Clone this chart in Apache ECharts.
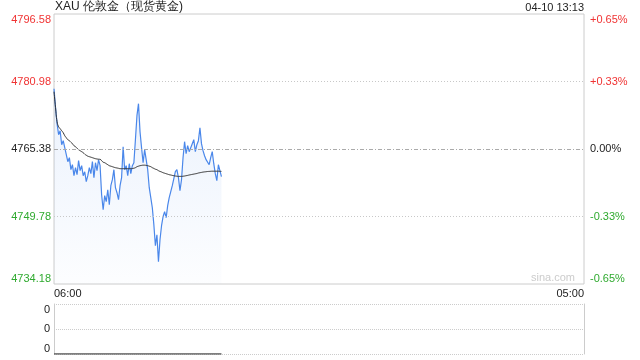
<!DOCTYPE html>
<html>
<head>
<meta charset="utf-8">
<script src="https://cdn.jsdelivr.net/npm/echarts@6/dist/echarts.min.js"></script>
<style>
html,body{margin:0;padding:0;background:#fff;}
#c{width:640px;height:360px;}
</style>
</head>
<body>
<div id="c"></div>
<script>
// ---- data ----
const titleText = 'XAU 伦敦金（现货黄金)';
const stampText = '04-10 13:13';
const startLabel = '06:00';
const endLabel = '05:00';
const stepMinutes = 4;
const sessionMinutes = 1380; // 06:00 -> 05:00 next day

const prices = [
  4779.32,4774.93,4771.23,4768.69,4769.61,4766.37,4767.30,4765.68,4764.06,4762.45,
  4763.37,4760.60,4761.75,4759.21,4761.06,4759.44,4762.68,4760.37,4761.52,4759.21,
  4760.13,4757.82,4759.21,4761.06,4759.67,4762.45,4758.75,4762.21,4760.37,4762.91,
  4761.52,4754.82,4751.35,4754.59,4753.20,4755.97,4752.51,4756.90,4758.29,4760.60,
  4756.44,4755.28,4753.66,4756.90,4758.75,4765.91,4760.60,4761.52,4759.21,4761.98,
  4759.67,4761.52,4762.21,4767.53,4773.08,4775.85,4769.38,4765.68,4762.21,4765.22,
  4762.91,4760.60,4756.44,4754.13,4751.81,4747.89,4743.03,4745.57,4739.33,4744.42,
  4747.65,4749.73,4750.89,4749.50,4752.28,4754.13,4755.51,4756.90,4758.52,4760.13,
  4760.60,4758.75,4755.74,4758.29,4763.37,4767.07,4764.29,4766.14,4764.76,4765.22,
  4766.61,4767.53,4764.76,4766.37,4767.30,4770.30,4766.61,4764.99,4763.83,4762.91,
  4762.45,4761.75,4763.37,4764.76,4761.98,4759.67,4758.05,4761.75,4760.37,4758.98
];
const avgPrices = [
  4778.62,4774.93,4771.69,4770.53,4770.07,4769.61,4769.15,4768.45,4767.99,4767.53,
  4767.30,4766.95,4766.61,4766.14,4765.91,4765.57,4765.22,4764.99,4764.76,4764.53,
  4764.18,4763.95,4763.72,4763.60,4763.49,4763.37,4763.25,4763.14,4763.07,4763.02,
  4763.00,4762.68,4762.33,4762.21,4761.98,4761.75,4761.52,4761.41,4761.29,4761.17,
  4761.06,4760.99,4760.92,4760.83,4760.83,4760.83,4760.83,4760.83,4760.83,4760.83,
  4760.83,4760.87,4760.94,4761.06,4761.29,4761.41,4761.52,4761.59,4761.64,4761.64,
  4761.59,4761.52,4761.41,4761.29,4761.06,4760.90,4760.71,4760.60,4760.37,4760.20,
  4760.07,4759.90,4759.79,4759.67,4759.56,4759.44,4759.37,4759.28,4759.21,4759.14,
  4759.09,4759.05,4759.05,4759.05,4759.09,4759.14,4759.21,4759.28,4759.37,4759.44,
  4759.51,4759.58,4759.65,4759.72,4759.83,4759.90,4759.97,4760.04,4760.09,4760.13,
  4760.18,4760.20,4760.23,4760.25,4760.25,4760.25,4760.25,4760.25,4760.23,4760.20
];
const volumes = [
  0,0,0,0,0,0,0,0,0,0, 0,0,0,0,0,0,0,0,0,0, 0,0,0,0,0,0,0,0,0,0,
  0,0,0,0,0,0,0,0,0,0, 0,0,0,0,0,0,0,0,0,0, 0,0,0,0,0,0,0,0,0,0,
  0,0,0,0,0,0,0,0,0,0, 0,0,0,0,0,0,0,0,0,0, 0,0,0,0,0,0,0,0,0,0,
  0,0,0,0,0,0,0,0,0,0, 0,0,0,0,0,0,0,0,0,0
];
const priceTicks = [4734.18, 4749.78, 4765.38, 4780.98, 4796.58];
const pctLabels = ['-0.65%', '-0.33%', '0.00%', '+0.33%', '+0.65%'];
const prevClose = 4765.38;
const volTickLabels = ['0', '0', '0'];

// ---- categories (time of day every stepMinutes) ----
const times = [];
for (let m = 0; m <= sessionMinutes; m += stepMinutes) {
  const t = (6 * 60 + m) % 1440;
  const hh = String(Math.floor(t / 60)).padStart(2, '0');
  const mm = String(t % 60).padStart(2, '0');
  times.push(hh + ':' + mm);
}
const lastIdx = times.length - 1;

const RED = '#f03333';
const GREEN = '#2faa2f';
const BLACK = '#222';
function tickColor(v) {
  const d = Math.round((v - prevClose) * 100);
  return d > 0 ? RED : (d < 0 ? GREEN : BLACK);
}
function tickIndex(v) {
  let best = 0, bd = Infinity;
  priceTicks.forEach((t, i) => { const d = Math.abs(t - v); if (d < bd) { bd = d; best = i; } });
  return best;
}

const FONT = 'Liberation Sans, Arial, sans-serif';
const chart = echarts.init(document.getElementById('c'), null, { renderer: 'canvas' });

chart.setOption({
  animation: false,
  backgroundColor: '#fff',
  textStyle: { fontFamily: FONT },
  graphic: [
    { type: 'text', left: 55, top: 1, style: { text: titleText, fontSize: 12, fill: '#222', fontFamily: FONT } },
    { type: 'text', right: 56, top: 2, style: { text: stampText, fontSize: 11, fill: '#222', fontFamily: FONT } },
    { type: 'text', right: 65, top: 272, style: { text: 'sina.com', fontSize: 11, fill: '#ccc', fontFamily: FONT } }
  ],
  grid: [
    { left: 54, right: 56, top: 14, height: 270, show: true, borderColor: '#ccc', borderWidth: 1, backgroundColor: 'transparent' },
    { left: 54, right: 56, top: 304, height: 50, show: false }
  ],
  xAxis: [
    {
      type: 'category', gridIndex: 0, data: times, boundaryGap: false,
      axisLine: { show: false }, axisTick: { show: false }, splitLine: { show: false },
      axisLabel: {
        interval: (idx) => idx === 0 || idx === lastIdx,
        formatter: (v, idx) => idx === 0 ? startLabel : (idx === lastIdx ? endLabel : ''),
        margin: 4, fontSize: 11, color: '#222', fontFamily: FONT,
        alignMinLabel: 'left', alignMaxLabel: 'right',
        showMinLabel: true, showMaxLabel: true
      }
    },
    {
      type: 'category', gridIndex: 1, data: times, boundaryGap: false,
      axisLine: { show: false }, axisTick: { show: false }, axisLabel: { show: false }, splitLine: { show: false }
    }
  ],
  yAxis: [
    {
      type: 'value', gridIndex: 0, min: priceTicks[0], max: priceTicks[priceTicks.length - 1],
      axisLine: { show: false }, axisTick: { show: false }, splitLine: { show: false },
      axisLabel: {
        customValues: priceTicks,
        formatter: (v) => v.toFixed(2),
        color: (v) => tickColor(v),
        fontSize: 11, margin: 3, fontFamily: FONT,
        verticalAlignMinLabel: 'bottom', verticalAlignMaxLabel: 'top'
      }
    },
    {
      type: 'value', gridIndex: 0, position: 'right', min: priceTicks[0], max: priceTicks[priceTicks.length - 1],
      axisLine: { show: false }, axisTick: { show: false }, splitLine: { show: false },
      axisLabel: {
        customValues: priceTicks,
        formatter: (v) => pctLabels[tickIndex(v)],
        color: (v) => tickColor(v),
        fontSize: 11, margin: 6, fontFamily: FONT,
        verticalAlignMinLabel: 'bottom', verticalAlignMaxLabel: 'top'
      }
    },
    {
      type: 'value', gridIndex: 1, min: 0, max: 2, interval: 1,
      axisLine: { show: true, lineStyle: { color: '#ccc', width: 1 } },
      axisTick: { show: false },
      splitLine: { show: true, lineStyle: { color: '#ccc', type: [1, 1] } },
      axisLabel: {
        formatter: (v) => volTickLabels[v] || '0',
        fontSize: 11, margin: 4, color: '#222', fontFamily: FONT,
        verticalAlignMinLabel: 'bottom', verticalAlignMaxLabel: 'top'
      }
    },
    {
      type: 'value', gridIndex: 1, position: 'right', min: 0, max: 2, interval: 1,
      axisLine: { show: true, lineStyle: { color: '#ccc', width: 1 } },
      axisTick: { show: false }, axisLabel: { show: false }, splitLine: { show: false }
    }
  ],
  series: [
    {
      name: 'price', type: 'line', xAxisIndex: 0, yAxisIndex: 0, data: prices,
      showSymbol: false, symbol: 'none', smooth: false,
      lineStyle: { color: '#4a87ea', width: 1.2 },
      areaStyle: {
        origin: 'start',
        color: new echarts.graphic.LinearGradient(0, 0, 0, 1, [
          { offset: 0, color: 'rgba(74,135,234,0.16)' },
          { offset: 1, color: 'rgba(74,135,234,0.02)' }
        ])
      },
      markLine: {
        silent: true, symbol: 'none', label: { show: false },
        data: [
          { yAxis: priceTicks[1], lineStyle: { color: '#c8c8c8', type: [1, 2], width: 1 } },
          { yAxis: priceTicks[2], lineStyle: { color: '#aaa', type: [4, 2, 1, 2], width: 1 } },
          { yAxis: priceTicks[3], lineStyle: { color: '#c8c8c8', type: [1, 2], width: 1 } }
        ]
      },
      z: 3
    },
    {
      name: 'avg', type: 'line', xAxisIndex: 0, yAxisIndex: 0, data: avgPrices,
      showSymbol: false, symbol: 'none', smooth: true,
      lineStyle: { color: '#333', width: 1 }, z: 4
    },
    {
      name: 'vol', type: 'line', xAxisIndex: 1, yAxisIndex: 2, data: volumes,
      showSymbol: false, symbol: 'none',
      lineStyle: { color: '#555', width: 1.5 }, z: 4
    }
  ]
});
</script>
</body>
</html>
